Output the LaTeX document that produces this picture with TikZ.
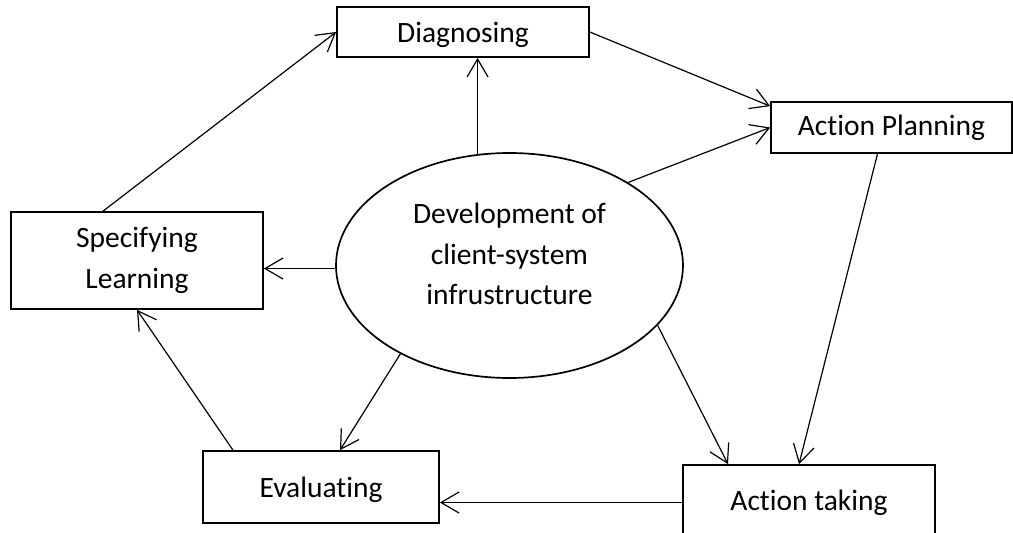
\documentclass[tikz,border=0pt]{standalone}
\usepackage{fontspec}
\setmainfont{Carlito}[Ligatures=NoCommon]
\usepackage{tikz}
\usetikzlibrary{arrows.meta,shapes.geometric}

\begin{document}
\begin{tikzpicture}[x=1pt,y=-1pt,
	stagebox/.style={draw,line width=1.7pt,align=center,inner sep=0pt,font=\fontsize{29.5}{40.5}\selectfont},
	hub/.style={draw,ellipse,line width=1.7pt,align=center,inner sep=0pt,minimum width=347pt,minimum height=225pt,font=\fontsize{29.5}{40.5}\selectfont},
	link/.style={line width=1.2pt,-{Straight Barb[length=18pt,width=21pt,line width=1.2pt]}}]
			\useasboundingbox (0,0) rectangle (1013,533);
			\node [hub] (dev) at (509.5,265.5) {Development of\\client-system\\infrustructure\\[-18pt]};
			\node [stagebox,minimum width=252pt,minimum height=50pt,text depth=-2pt] (diag) at (463,32) {Diagnosing};
			\node [stagebox,minimum width=241pt,minimum height=51pt] (plan) at (891.5,127.5) {Action Planning};
			\node [stagebox,minimum width=252pt,minimum height=75pt] (act) at (809,502.5) {Action taking};
			\node [stagebox,minimum width=236pt,minimum height=72pt,text height=26pt] (eval) at (321,487) {Evaluating};
			\node [stagebox,minimum width=252pt,minimum height=97pt] (spec) at (137,260.5) {Specifying\\Learning};
			\draw [link] ([xshift=-34pt]spec.north) -- (diag.west);
			\draw [link] (dev.106) -- (dev.106 |- diag.south);
			\draw [link] (diag.east) -- ([yshift=-5pt]plan.north west);
			\draw [link] (dev.35) -- (plan.west);
			\draw [link] ([xshift=-14pt]plan.south) -- ([xshift=-10pt]act.north);
			\draw [link] (dev.-22) -- ([xshift=-81pt]act.north);
			\draw [link] (act.west) -- (act.west -| eval.east);
			\draw [link] (dev.219) -- ([xshift=19pt]eval.north);
			\draw [link] ([xshift=-88pt]eval.north) -- (spec.south);
			\draw [link] (dev.181) -- (dev.181 -| spec.east);
\end{tikzpicture}
\end{document}
